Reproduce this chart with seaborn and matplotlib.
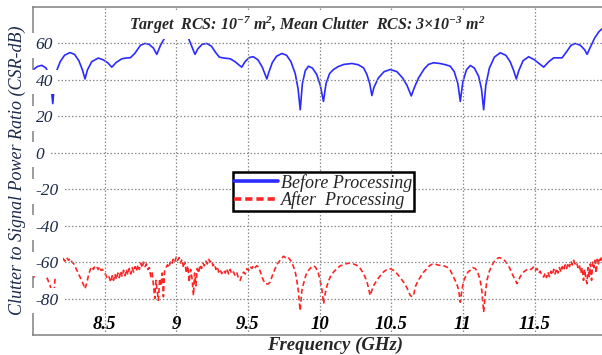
import numpy as np
import pandas as pd
import matplotlib
matplotlib.use("Agg")
import matplotlib.pyplot as plt
import seaborn as sns
from matplotlib.lines import Line2D

# ---------------- data ----------------
before_freq = [8.000, 8.030, 8.061, 8.091, 8.110, 8.125, 8.138, 8.150, 8.165, 8.190, 8.220,
               8.258, 8.290, 8.320, 8.345, 8.363, 8.380, 8.410, 8.456, 8.490, 8.520, 8.550,
               8.580, 8.620, 8.650, 8.680, 8.710, 8.750, 8.782, 8.810, 8.840, 8.864, 8.890,
               8.915, 8.934, 8.960, 8.990, 9.020, 9.050, 9.073, 9.100, 9.120, 9.131, 9.150,
               9.180, 9.213, 9.245, 9.275, 9.300, 9.330, 9.376, 9.410, 9.440, 9.457, 9.480,
               9.510, 9.538, 9.570, 9.600, 9.620, 9.632, 9.645, 9.670, 9.700, 9.737, 9.770,
               9.800, 9.830, 9.850, 9.865, 9.880, 9.900, 9.922, 9.950, 9.980, 10.005, 10.027,
               10.045, 10.070, 10.097, 10.130, 10.170, 10.226, 10.270, 10.307, 10.330, 10.350,
               10.365, 10.380, 10.410, 10.450, 10.493, 10.540, 10.580, 10.610, 10.640, 10.660,
               10.690, 10.730, 10.760, 10.795, 10.840, 10.880, 10.912, 10.940, 10.965, 10.982,
               11.000, 11.025, 11.052, 11.080, 11.110, 11.130, 11.145, 11.160, 11.185, 11.220,
               11.261, 11.300, 11.330, 11.355, 11.373, 11.390, 11.420, 11.459, 11.500, 11.540,
               11.564, 11.600, 11.634, 11.692, 11.720, 11.755, 11.785, 11.820, 11.850, 11.867,
               11.890, 11.920, 11.950, 11.971]
before_csr = [45.5, 47.3, 48.0, 46.5, 43.0, 37.0, 27.0, 38.0, 45.0, 50.0, 53.5,
              55.0, 54.0, 50.5, 45.5, 40.5, 45.5, 50.0, 52.0, 51.0, 49.5, 47.0,
              49.5, 51.6, 52.0, 52.2, 54.5, 59.0, 60.0, 59.5, 57.5, 54.0, 59.0,
              62.5, 65.0, 68.5, 70.0, 70.0, 68.0, 65.0, 60.0, 56.0, 54.0, 57.0,
              59.5, 60.0, 58.5, 55.0, 52.5, 52.0, 51.6, 50.0, 48.0, 47.0, 50.0,
              52.3, 52.7, 51.0, 47.0, 43.0, 40.5, 44.0, 49.5, 53.0, 54.5, 53.5,
              50.0, 43.5, 35.0, 23.6, 38.0, 45.0, 47.5, 46.5, 43.0, 37.0, 28.2,
              38.0, 43.5, 45.7, 47.3, 48.5, 49.0, 48.3, 46.6, 43.0, 38.0,
              31.4, 36.0, 41.0, 44.5, 45.7, 44.5, 41.0, 37.0, 31.2, 35.5,
              41.0, 46.0, 48.5, 49.4, 49.0, 48.3, 47.5, 44.5, 38.0, 28.2,
              39.0, 45.5, 47.9, 46.5, 42.0, 35.0, 23.6, 37.0, 46.5, 52.5,
              54.9, 53.5, 50.0, 45.0, 40.5, 45.0, 50.5, 52.7, 51.0, 48.5,
              47.0, 50.0, 52.1, 52.1, 55.0, 59.0, 60.0, 59.0, 56.5, 54.0,
              58.0, 63.0, 66.5, 68.0]

after_freq = [8.000, 8.015, 8.030, 8.045, 8.060, 8.075, 8.090, 8.105, 8.120, 8.130, 8.138,
              8.146, 8.155, 8.165, 8.178, 8.190, 8.200, 8.210, 8.222, 8.235, 8.248, 8.260,
              8.272, 8.285, 8.300, 8.315, 8.330, 8.345, 8.363, 8.375, 8.388, 8.400, 8.412,
              8.422, 8.432, 8.445, 8.455, 8.465, 8.475, 8.485, 8.497, 8.508, 8.518, 8.530,
              8.543, 8.553, 8.562, 8.572, 8.582, 8.592, 8.602, 8.612, 8.622, 8.632, 8.642,
              8.652, 8.662, 8.672, 8.682, 8.692, 8.702, 8.712, 8.722, 8.732, 8.742, 8.752,
              8.762, 8.772, 8.782, 8.792, 8.802, 8.812, 8.822, 8.832, 8.842, 8.850, 8.858,
              8.866, 8.875, 8.884, 8.893, 8.902, 8.910, 8.918, 8.928, 8.938, 8.948, 8.958,
              8.968, 8.978, 8.988, 9.000, 9.010, 9.020, 9.030, 9.040, 9.050, 9.060, 9.070,
              9.080, 9.090, 9.100, 9.110, 9.120, 9.128, 9.137, 9.146, 9.156, 9.166, 9.176,
              9.186, 9.196, 9.206, 9.216, 9.226, 9.236, 9.246, 9.256, 9.266, 9.276, 9.286,
              9.296, 9.306, 9.317, 9.330, 9.341, 9.353, 9.365, 9.376, 9.387, 9.399, 9.411,
              9.423, 9.434, 9.446, 9.458, 9.470, 9.481, 9.493, 9.505, 9.516, 9.528, 9.539,
              9.551, 9.562, 9.574, 9.590, 9.605, 9.620, 9.640, 9.655, 9.672, 9.690, 9.705,
              9.720, 9.735, 9.748, 9.762, 9.777, 9.792, 9.806, 9.820, 9.832, 9.841, 9.852,
              9.864, 9.876, 9.888, 9.905, 9.923, 9.940, 9.955, 9.970, 9.988, 10.004, 10.016,
              10.028, 10.040, 10.050, 10.062, 10.074, 10.097, 10.120, 10.145, 10.168, 10.190,
              10.212, 10.236, 10.260, 10.284, 10.307, 10.330, 10.353, 10.376, 10.400, 10.423,
              10.446, 10.470, 10.493, 10.516, 10.540, 10.563, 10.586, 10.609, 10.633, 10.645,
              10.656, 10.668, 10.686, 10.703, 10.726, 10.749, 10.767, 10.784, 10.803, 10.822,
              10.842, 10.866, 10.889, 10.912, 10.935, 10.955, 10.970, 10.982, 10.994, 11.005,
              11.017, 11.035, 11.052, 11.070, 11.087, 11.105, 11.121, 11.133, 11.145, 11.157,
              11.168, 11.185, 11.203, 11.220, 11.238, 11.255, 11.273, 11.290, 11.308, 11.325,
              11.343, 11.360, 11.378, 11.400, 11.424, 11.440, 11.459, 11.476, 11.494, 11.505,
              11.517, 11.529, 11.540, 11.552, 11.564, 11.574, 11.584, 11.594, 11.604, 11.614,
              11.624, 11.634, 11.644, 11.654, 11.664, 11.674, 11.684, 11.694, 11.704, 11.714,
              11.724, 11.734, 11.744, 11.754, 11.764, 11.773, 11.783, 11.793, 11.803, 11.813,
              11.823, 11.833, 11.842, 11.850, 11.858, 11.866, 11.874, 11.882, 11.890, 11.898,
              11.906, 11.914, 11.922, 11.930, 11.938, 11.946, 11.954, 11.962, 11.971]
after_csr = [-69.0, -66.5, -64.5, -63.6, -64.0, -65.5, -67.5, -70.0, -73.0, -76.0, -87.5,
             -77.0, -68.0, -63.0, -59.5, -58.5, -60.0, -58.0, -59.5, -57.5, -59.0, -58.0,
             -60.0, -61.0, -63.5, -66.0, -68.5, -71.0, -74.6, -71.5, -67.0, -64.0, -62.5,
             -64.0, -62.0, -62.7, -64.0, -62.5, -64.5, -64.0, -65.5, -67.0, -69.0, -68.0,
             -71.0, -67.5, -70.0, -66.5, -69.5, -66.0, -68.5, -65.0, -68.0, -64.5, -67.5,
             -64.0, -67.0, -63.5, -66.5, -63.0, -65.5, -62.5, -65.0, -61.5, -64.0, -60.5,
             -63.0, -60.0, -62.5, -61.0, -64.0, -63.0, -68.0, -66.0, -74.0, -80.0, -70.0,
             -75.0, -81.0, -69.0, -73.0, -66.0, -79.0, -65.0, -63.0, -61.5, -63.0, -60.0,
             -61.5, -58.5, -60.0, -57.2, -59.0, -57.5, -60.5, -58.5, -63.0, -60.0, -66.0,
             -62.0, -71.0, -64.0, -69.0, -78.3, -66.0, -73.0, -63.5, -66.0, -61.5, -63.5,
             -60.5, -62.0, -59.5, -61.0, -58.5, -60.0, -59.0, -62.0, -61.0, -64.0, -62.5,
             -65.5, -64.0, -66.3, -64.5, -66.0, -63.6, -66.5, -64.0, -66.5, -65.4, -67.5,
             -66.0, -69.0, -70.0, -67.0, -65.5, -66.5, -63.6, -64.5, -62.5, -63.5, -61.8,
             -63.0, -62.0, -62.7, -66.0, -69.5, -71.8, -72.0, -71.0, -67.0, -63.6, -61.0,
             -59.5, -58.0, -56.8, -57.5, -57.0, -58.5, -60.0, -63.0, -66.0, -70.0, -76.0,
             -86.6, -76.0, -71.8, -67.0, -64.5, -63.0, -62.0, -62.7, -65.0, -70.0, -75.0,
             -82.9, -77.0, -73.5, -70.5, -68.2, -65.5, -63.6, -62.0, -61.5, -60.8,
             -60.5, -61.0, -61.8, -63.5, -66.3, -70.5, -78.3, -73.0, -70.0, -67.5,
             -65.4, -64.0, -63.6, -64.5, -66.3, -68.5, -71.0, -74.0, -78.3, -79.0,
             -78.3, -73.5, -70.5, -68.2, -65.5, -63.6, -62.0, -61.2, -61.0, -61.5,
             -61.8, -62.0, -62.7, -64.5, -68.2, -71.5, -75.0, -82.0, -75.0, -70.5,
             -68.2, -65.5, -64.5, -63.0, -63.6, -66.0, -70.0, -76.0, -87.5, -77.0,
             -70.0, -65.0, -61.8, -59.5, -58.1, -57.5, -58.1, -59.0, -60.8, -63.0,
             -66.3, -69.0, -71.8, -68.0, -65.4, -64.5, -63.6, -64.0, -62.7, -64.5,
             -63.5, -66.0, -65.0, -67.5, -68.2, -66.0, -68.5, -65.5, -68.0, -65.0,
             -67.0, -64.0, -66.5, -63.5, -66.0, -63.0, -65.5, -62.5, -64.5, -61.5,
             -63.5, -60.5, -62.5, -59.5, -61.5, -59.0, -61.0, -60.0, -63.0, -61.5,
             -66.0, -63.0, -70.0, -64.0, -69.0, -71.8, -63.0, -68.0, -61.0, -70.0,
             -60.0, -63.0, -59.0, -66.0, -58.5, -61.0, -57.5, -59.0, -56.2]

series_names = ["Before Processing", "After  Processing"]
x_ticks = [8.5, 9, 9.5, 10, 10.5, 11, 11.5]
x_tick_labels = ["8.5", "9", "9.5", "10", "10.5", "11", "11.5"]
y_ticks = [-80, -60, -40, -20, 0, 20, 40, 60]
y_tick_labels = ["-80", "-60", "-40", "-20", "0", "20", "40", "60"]

# ---------------- styling ----------------
sns.set_style("white")
plt.rcParams["font.family"] = ["Liberation Serif", "DejaVu Serif"]
plt.rcParams["mathtext.fontset"] = "custom"
plt.rcParams["mathtext.rm"] = "Liberation Serif:bold:italic"
plt.rcParams["mathtext.it"] = "Liberation Serif:bold:italic"
plt.rcParams["mathtext.bf"] = "Liberation Serif:bold:italic"

BLUE = "#2b2bff"
RED = "#ff2424"
NAVY = "#1c2a4a"

df = pd.concat([
    pd.DataFrame({"freq": before_freq, "csr": before_csr, "series": series_names[0]}),
    pd.DataFrame({"freq": after_freq, "csr": after_csr, "series": series_names[1]}),
], ignore_index=True)

W, H = 602, 355
fig = plt.figure(figsize=(W / 100, H / 100), dpi=100)
ax = fig.add_axes([33 / W, (H - 335) / H, (W - 33) / W, (335 - 7) / H])

sns.lineplot(data=df, x="freq", y="csr", hue="series", style="series",
             palette={series_names[0]: BLUE, series_names[1]: RED},
             dashes={series_names[0]: "", series_names[1]: (3, 1.8)},
             estimator=None, sort=False, linewidth=1.2, legend=False, ax=ax)

ax.set_xlim(8.0, 11.971)
ax.set_ylim(-100, 80)
ax.set_xticks(x_ticks)
ax.set_xticklabels(x_tick_labels)
ax.set_yticks(y_ticks)
ax.set_yticklabels(y_tick_labels)
ax.set_axisbelow(False)
ax.grid(True, color="#8a8a8a", linestyle=(0, (1.2, 1.6)), linewidth=0.9)

for side in ["left", "bottom", "top"]:
    ax.spines[side].set_color("#808080")
    ax.spines[side].set_linewidth(1.1)
ax.spines["right"].set_visible(False)

ax.tick_params(axis="both", length=0)
ax.tick_params(axis="y", pad=-2.0)
ax.tick_params(axis="x", pad=-1.5)
for lab in ax.get_yticklabels():
    lab.set_horizontalalignment("left")
    lab.set_fontstyle("italic")
    lab.set_fontsize(12.5)
    lab.set_color(NAVY)
    lab.set_bbox(dict(facecolor="white", edgecolor="none", boxstyle="square,pad=0.25"))
for lab in ax.get_xticklabels():
    lab.set_verticalalignment("bottom")
    lab.set_fontstyle("italic")
    lab.set_fontweight("bold")
    lab.set_fontsize(13.5)
    lab.set_color("black")

ax.set_xlabel("Frequency (GHz)", fontweight="bold", fontstyle="italic", fontsize=13.5)
ax.xaxis.set_label_coords(0.531, -0.006)
ax.set_ylabel("Clutter to Signal Power Ratio (CSR-dB)", fontstyle="italic",
              fontsize=13, color=NAVY)
ax.yaxis.set_label_coords(-0.012, 0.503)

ax.text(0.4815, 0.93,
        "Target  RCS: 10$^{-7}$ m$^{2}$, Mean Clutter  RCS: 3\u00d710$^{-3}$ m$^{2}$",
        transform=ax.transAxes, ha="center", va="baseline", fontsize=11.5,
        fontweight="bold", fontstyle="italic", zorder=6,
        bbox=dict(facecolor="white", edgecolor="none", boxstyle="square,pad=0.2"))

handles = [Line2D([], [], color=BLUE, lw=2.6),
           Line2D([], [], color=RED, lw=2.6, linestyle=(0, (2, 1.1)))]
leg = ax.legend(handles, series_names, loc="center", bbox_to_anchor=(0.5105, 0.4375),
                frameon=True, fancybox=False, edgecolor="black", framealpha=1,
                prop={"family": "Liberation Serif", "style": "italic", "size": 13},
                handlelength=2.4, handletextpad=0.2, borderpad=0.1,
                labelspacing=0.0, borderaxespad=0)
leg.get_frame().set_linewidth(1.8)
leg.set_zorder(7)

fig.savefig("out.png", dpi=100)
